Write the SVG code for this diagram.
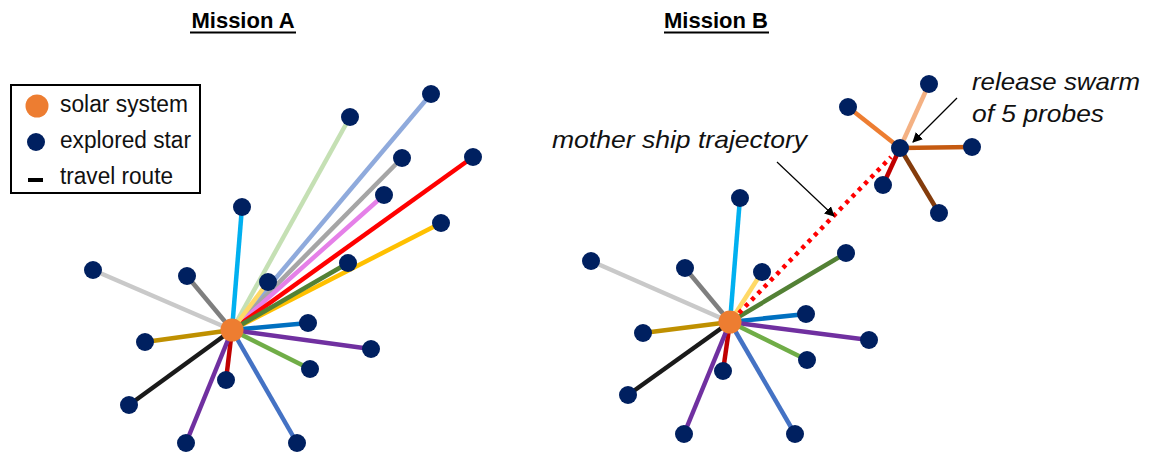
<svg xmlns="http://www.w3.org/2000/svg" width="1152" height="452" viewBox="0 0 1152 452">
  <style>
    .title { font-family: "Liberation Sans", Arial, sans-serif; font-size: 22px; font-weight: bold; fill: #000; }
    .uline { stroke: #000; stroke-width: 2; }
    .legend { font-family: "Liberation Sans", Arial, sans-serif; font-size: 23px; fill: #111; }
    .note { font-family: "Liberation Sans", Arial, sans-serif; font-size: 24px; font-style: italic; fill: #111; }
    .sun { fill: #ED7D31; }
    .star { fill: #002060; }
    .route { stroke-width: 4.5; stroke-linecap: butt; fill: none; }
    .pointer { stroke: #000; stroke-width: 1.2; fill: none; marker-end: url(#head); }
  </style>
  <defs>
    <marker id="head" viewBox="0 0 10 10" refX="9" refY="5" markerWidth="10" markerHeight="10" markerUnits="userSpaceOnUse" orient="auto">
      <path d="M0,0 L10,5 L0,10 z" fill="#000"/>
    </marker>
  </defs>
  <rect width="1152" height="452" fill="#fff"/>

  <!-- headings -->
  <g id="title-a">
    <text class="title" x="243" y="28" text-anchor="middle">Mission A</text>
    <line class="uline" x1="190" y1="32.5" x2="296" y2="32.5"/>
  </g>
  <g id="title-b">
    <text class="title" x="716" y="28" text-anchor="middle">Mission B</text>
    <line class="uline" x1="664" y1="32.5" x2="769" y2="32.5"/>
  </g>

  <!-- key -->
  <g id="legend">
    <rect x="11" y="85" width="189" height="108" fill="#fff" stroke="#000" stroke-width="2"/>
    <circle class="sun" cx="37" cy="106" r="11.5"/>
    <circle class="star" cx="36" cy="142" r="9"/>
    <line x1="28" y1="180" x2="43" y2="180" stroke="#000" stroke-width="4"/>
    <text class="legend" x="60" y="112" textLength="128" lengthAdjust="spacingAndGlyphs">solar system</text>
    <text class="legend" x="60" y="148" textLength="131" lengthAdjust="spacingAndGlyphs">explored star</text>
    <text class="legend" x="60" y="184" textLength="113" lengthAdjust="spacingAndGlyphs">travel route</text>
  </g>

  <!-- travel routes -->
  <g id="connectors">
    <!-- Mission A: every star reached directly from the solar system -->
    <g id="routes-a">
      <line class="route" x1="232" y1="330" x2="350" y2="117" stroke="#C5E0B4"/>
      <line class="route" x1="232" y1="330" x2="431" y2="94" stroke="#8FAADC"/>
      <line class="route" x1="232" y1="330" x2="402" y2="158" stroke="#A5A5A5"/>
      <line class="route" x1="232" y1="330" x2="384" y2="195" stroke="#E580E8"/>
      <line class="route" x1="232" y1="330" x2="473" y2="157" stroke="#FF0000"/>
      <line class="route" x1="232" y1="330" x2="242" y2="207" stroke="#00B0F0"/>
      <line class="route" x1="232" y1="330" x2="441" y2="223" stroke="#FFC000"/>
      <line class="route" x1="232" y1="330" x2="268" y2="282" stroke="#FFD966"/>
      <line class="route" x1="232" y1="330" x2="348" y2="263" stroke="#538135"/>
      <line class="route" x1="232" y1="330" x2="93" y2="270" stroke="#C9C9C9"/>
      <line class="route" x1="232" y1="330" x2="187" y2="276" stroke="#7F7F7F"/>
      <line class="route" x1="232" y1="330" x2="308" y2="323" stroke="#0070C0"/>
      <line class="route" x1="232" y1="330" x2="145" y2="342" stroke="#BF9000"/>
      <line class="route" x1="232" y1="330" x2="371" y2="349" stroke="#7030A0"/>
      <line class="route" x1="232" y1="330" x2="310" y2="369" stroke="#70AD47"/>
      <line class="route" x1="232" y1="330" x2="226" y2="380" stroke="#C00000"/>
      <line class="route" x1="232" y1="330" x2="129" y2="405" stroke="#1A1A1A"/>
      <line class="route" x1="232" y1="330" x2="186" y2="443" stroke="#7030A0"/>
      <line class="route" x1="232" y1="330" x2="297" y2="443" stroke="#4472C4"/>
    </g>
    <!-- Mission B: near stars direct, far group via the mother ship -->
    <g id="routes-b">
      <line class="route" x1="730" y1="322" x2="740" y2="198" stroke="#00B0F0"/>
      <line class="route" x1="730" y1="322" x2="762" y2="272" stroke="#FFD966"/>
      <line class="route" x1="730" y1="322" x2="846" y2="253" stroke="#538135"/>
      <line class="route" x1="730" y1="322" x2="591" y2="261" stroke="#C9C9C9"/>
      <line class="route" x1="730" y1="322" x2="685" y2="268" stroke="#7F7F7F"/>
      <line class="route" x1="730" y1="322" x2="806" y2="314" stroke="#0070C0"/>
      <line class="route" x1="730" y1="322" x2="643" y2="333" stroke="#BF9000"/>
      <line class="route" x1="730" y1="322" x2="869" y2="340" stroke="#7030A0"/>
      <line class="route" x1="730" y1="322" x2="807" y2="360" stroke="#70AD47"/>
      <line class="route" x1="730" y1="322" x2="723" y2="371" stroke="#C00000"/>
      <line class="route" x1="730" y1="322" x2="628" y2="395" stroke="#1A1A1A"/>
      <line class="route" x1="730" y1="322" x2="684" y2="434" stroke="#7030A0"/>
      <line class="route" x1="730" y1="322" x2="795" y2="434" stroke="#4472C4"/>
      <!-- mother ship trajectory -->
      <line x1="739" y1="313" x2="891" y2="157" stroke="#FF0000" stroke-width="4.5" stroke-dasharray="4 5" fill="none"/>
      <!-- probe swarm -->
      <line class="route" x1="900" y1="148" x2="848" y2="107" stroke="#ED7D31"/>
      <line class="route" x1="900" y1="148" x2="929" y2="84" stroke="#F4B183"/>
      <line class="route" x1="900" y1="148" x2="972" y2="147" stroke="#C55A11"/>
      <line class="route" x1="900" y1="148" x2="883" y2="185" stroke="#C00000"/>
      <line class="route" x1="900" y1="148" x2="939" y2="213" stroke="#843C0C"/>
    </g>
    <!-- callout pointers -->
    <line class="pointer" x1="777" y1="162" x2="834" y2="216"/>
    <line class="pointer" x1="957" y1="98" x2="913" y2="142"/>
  </g>

  <!-- Mission A stars -->
  <g id="a-star-1"><circle class="star" cx="350" cy="117" r="9"/></g>
  <g id="a-star-2"><circle class="star" cx="431" cy="94" r="9"/></g>
  <g id="a-star-3"><circle class="star" cx="402" cy="158" r="9"/></g>
  <g id="a-star-4"><circle class="star" cx="384" cy="195" r="9"/></g>
  <g id="a-star-5"><circle class="star" cx="473" cy="157" r="9"/></g>
  <g id="a-star-6"><circle class="star" cx="242" cy="207" r="9"/></g>
  <g id="a-star-7"><circle class="star" cx="441" cy="223" r="9"/></g>
  <g id="a-star-8"><circle class="star" cx="268" cy="282" r="9"/></g>
  <g id="a-star-9"><circle class="star" cx="348" cy="263" r="9"/></g>
  <g id="a-star-10"><circle class="star" cx="93" cy="270" r="9"/></g>
  <g id="a-star-11"><circle class="star" cx="187" cy="276" r="9"/></g>
  <g id="a-star-12"><circle class="star" cx="308" cy="323" r="9"/></g>
  <g id="a-star-13"><circle class="star" cx="145" cy="342" r="9"/></g>
  <g id="a-star-14"><circle class="star" cx="371" cy="349" r="9"/></g>
  <g id="a-star-15"><circle class="star" cx="310" cy="369" r="9"/></g>
  <g id="a-star-16"><circle class="star" cx="226" cy="380" r="9"/></g>
  <g id="a-star-17"><circle class="star" cx="129" cy="405" r="9"/></g>
  <g id="a-star-18"><circle class="star" cx="186" cy="443" r="9"/></g>
  <g id="a-star-19"><circle class="star" cx="297" cy="443" r="9"/></g>
  <g id="a-sun"><circle class="sun" cx="232" cy="330" r="11.5"/></g>

  <!-- Mission B stars -->
  <g id="b-star-1"><circle class="star" cx="740" cy="198" r="9"/></g>
  <g id="b-star-2"><circle class="star" cx="762" cy="272" r="9"/></g>
  <g id="b-star-3"><circle class="star" cx="846" cy="253" r="9"/></g>
  <g id="b-star-4"><circle class="star" cx="591" cy="261" r="9"/></g>
  <g id="b-star-5"><circle class="star" cx="685" cy="268" r="9"/></g>
  <g id="b-star-6"><circle class="star" cx="806" cy="314" r="9"/></g>
  <g id="b-star-7"><circle class="star" cx="643" cy="333" r="9"/></g>
  <g id="b-star-8"><circle class="star" cx="869" cy="340" r="9"/></g>
  <g id="b-star-9"><circle class="star" cx="807" cy="360" r="9"/></g>
  <g id="b-star-10"><circle class="star" cx="723" cy="371" r="9"/></g>
  <g id="b-star-11"><circle class="star" cx="628" cy="395" r="9"/></g>
  <g id="b-star-12"><circle class="star" cx="684" cy="434" r="9"/></g>
  <g id="b-star-13"><circle class="star" cx="795" cy="434" r="9"/></g>
  <g id="b-swarm-hub"><circle class="star" cx="900" cy="148" r="9"/></g>
  <g id="b-probe-1"><circle class="star" cx="848" cy="107" r="9"/></g>
  <g id="b-probe-2"><circle class="star" cx="929" cy="84" r="9"/></g>
  <g id="b-probe-3"><circle class="star" cx="972" cy="147" r="9"/></g>
  <g id="b-probe-4"><circle class="star" cx="883" cy="185" r="9"/></g>
  <g id="b-probe-5"><circle class="star" cx="939" cy="213" r="9"/></g>
  <g id="b-sun"><circle class="sun" cx="730" cy="322" r="11.5"/></g>

  <!-- callout texts -->
  <g id="label-trajectory">
    <text class="note" x="552" y="148" textLength="255" lengthAdjust="spacingAndGlyphs">mother ship trajectory</text>
  </g>
  <g id="label-swarm">
    <text class="note" x="972" y="90" textLength="168" lengthAdjust="spacingAndGlyphs">release swarm</text>
    <text class="note" x="972" y="122" textLength="132" lengthAdjust="spacingAndGlyphs">of 5 probes</text>
  </g>
</svg>
